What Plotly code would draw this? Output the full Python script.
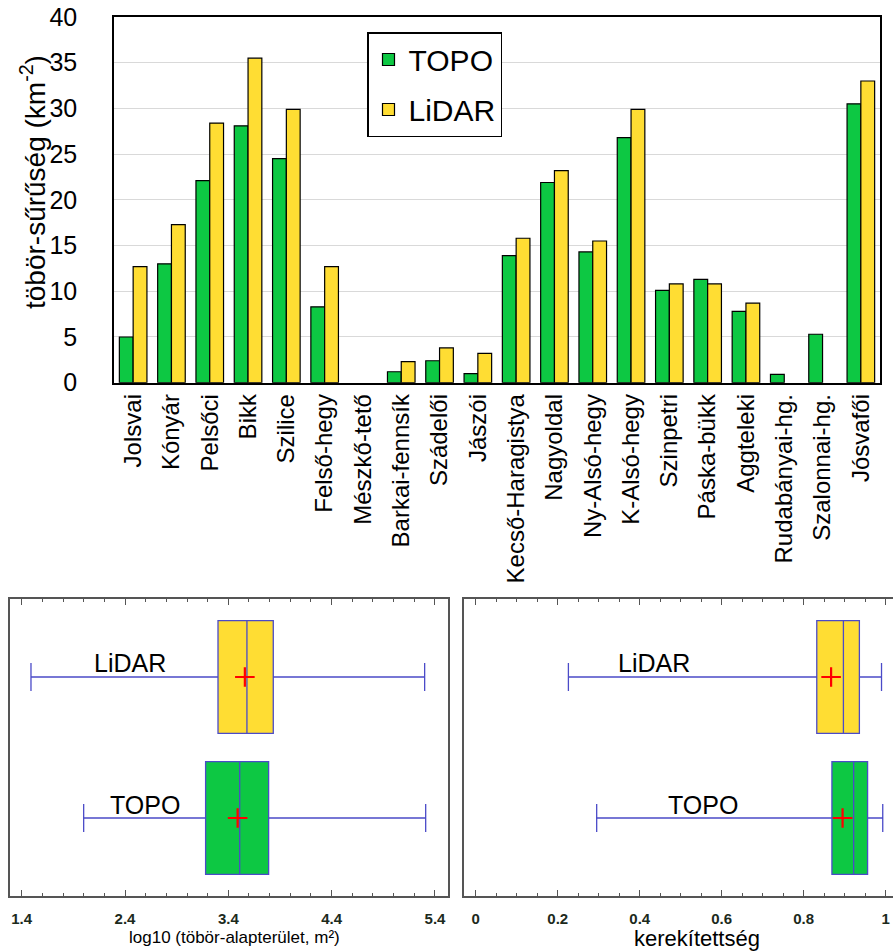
import plotly.graph_objects as go

# ---------------- data ----------------
categories = ["Jolsvai", "Kónyár", "Pelsőci", "Bikk", "Szilice", "Felső-hegy",
              "Mészkő-tető", "Barkai-fennsík", "Szádelői", "Jászói",
              "Kecső-Haragistya", "Nagyoldal", "Ny-Alsó-hegy", "K-Alsó-hegy",
              "Szinpetri", "Páska-bükk", "Aggteleki", "Rudabányai-hg.",
              "Szalonnai-hg.", "Jósvafői"]
topo_density = [5.0, 13.0, 22.1, 28.1, 24.5, 8.3, 0, 1.2, 2.4, 1.0,
                13.9, 21.9, 14.3, 26.8, 10.1, 11.3, 7.8, 0.9, 5.3, 30.5]
lidar_density = [12.7, 17.3, 28.4, 35.5, 29.9, 12.7, 0, 2.3, 3.8, 3.2,
                 15.8, 23.2, 15.5, 29.9, 10.8, 10.8, 8.7, 0, 0, 33.0]

box_names = ["TOPO", "LiDAR"]
box_pos = [0, 1]
# log10 area stats: [TOPO, LiDAR]
area_low = [2.00, 1.49]
area_q1 = [3.18, 3.30]
area_med = [3.51, 3.58]
area_q3 = [3.79, 3.835]
area_high = [5.31, 5.30]
area_mean = [3.49, 3.56]
# roundness stats
round_low = [0.295, 0.226]
round_q1 = [0.869, 0.832]
round_med = [0.922, 0.897]
round_q3 = [0.956, 0.936]
round_high = [0.993, 0.990]
round_mean = [0.895, 0.867]

GREEN = "#0DC843"
YELLOW = "#FFDD33"
BOXLINE = "#4B4BC8"
FONT = "Liberation Sans, Arial, sans-serif"

W, H = 893, 951
def px(x): return x / W
def py(y): return 1 - y / H

def outline_widths(vals):
    return [1.2 if v > 0 else 0 for v in vals]

fig = go.Figure()

# ---------------- top bar chart ----------------
fig.add_trace(go.Bar(x=categories, y=topo_density, name="TOPO",
                     marker=dict(color=GREEN, line=dict(color="black", width=outline_widths(topo_density))),
                     legendgroup="a", xaxis="x", yaxis="y"))
fig.add_trace(go.Bar(x=categories, y=lidar_density, name="LiDAR",
                     marker=dict(color=YELLOW, line=dict(color="black", width=outline_widths(lidar_density))),
                     legendgroup="b", xaxis="x", yaxis="y"))

# ---------------- box plots ----------------
colors = [GREEN, YELLOW]
for i in range(2):
    fig.add_trace(go.Box(orientation="h", y=[box_pos[i]], q1=[area_q1[i]], median=[area_med[i]],
                         q3=[area_q3[i]], lowerfence=[area_low[i]], upperfence=[area_high[i]],
                         fillcolor=colors[i], line=dict(color=BOXLINE, width=1.3),
                         width=0.8, whiskerwidth=0.25, showlegend=False,
                         xaxis="x2", yaxis="y2"))
    fig.add_trace(go.Box(orientation="h", y=[box_pos[i]], q1=[round_q1[i]], median=[round_med[i]],
                         q3=[round_q3[i]], lowerfence=[round_low[i]], upperfence=[round_high[i]],
                         fillcolor=colors[i], line=dict(color=BOXLINE, width=1.3),
                         width=0.8, whiskerwidth=0.25, showlegend=False,
                         xaxis="x3", yaxis="y3"))

fig.add_trace(go.Scatter(x=area_mean, y=box_pos, mode="markers", showlegend=False,
                         marker=dict(symbol="cross-thin", size=14, color="red",
                                     line=dict(color="red", width=2.2)),
                         xaxis="x2", yaxis="y2"))
fig.add_trace(go.Scatter(x=round_mean, y=box_pos, mode="markers", showlegend=False,
                         marker=dict(symbol="cross-thin", size=14, color="red",
                                     line=dict(color="red", width=2.2)),
                         xaxis="x3", yaxis="y3"))

annotations = []
# box labels
label_x_area = [2.59, 2.45]
label_x_round = [0.554, 0.435]
label_y = [0.09, 1.10]
for i in range(2):
    annotations.append(dict(x=label_x_area[i], y=label_y[i], xref="x2", yref="y2",
                            text=box_names[i], showarrow=False,
                            xanchor="center", yanchor="middle",
                            font=dict(size=25, color="black", family=FONT)))
    annotations.append(dict(x=label_x_round[i], y=label_y[i], xref="x3", yref="y3",
                            text=box_names[i], showarrow=False,
                            xanchor="center", yanchor="middle",
                            font=dict(size=25, color="black", family=FONT)))

annotations.append(dict(x=px(33), y=py(182), xref="paper", yref="paper",
                        xanchor="center", yanchor="middle",
                        text="töbör-sűrűség (km<sup>-2</sup>)", textangle=-90,
                        showarrow=False, font=dict(size=28, color="black", family=FONT)))
annotations.append(dict(x=px(234), y=py(937), xref="paper", yref="paper",
                        xanchor="center", yanchor="middle",
                        text="log10 (töbör-alapterület, m²)", showarrow=False,
                        font=dict(size=17, color="black", family=FONT)))
annotations.append(dict(x=px(697), y=py(938), xref="paper", yref="paper",
                        xanchor="center", yanchor="middle",
                        text="kerekítettség", showarrow=False,
                        font=dict(size=22, color="black", family=FONT)))

tickfont_small = dict(size=15, color="#1c2a1c", family=FONT, weight="bold")
FRAME = "#555555"

fig.update_layout(
    width=W, height=H,
    margin=dict(l=0, r=0, t=0, b=0, pad=0, autoexpand=False),
    paper_bgcolor="white", plot_bgcolor="white",
    barmode="group", bargap=0.28, bargroupgap=0,
    font=dict(family=FONT, color="black"),
    showlegend=True,
    legend=dict(x=px(367), y=py(32), xanchor="left", yanchor="top",
                bordercolor="black", borderwidth=1.5, bgcolor="white",
                font=dict(size=30, color="black", family=FONT),
                tracegroupgap=8, itemwidth=30),
    xaxis=dict(domain=[px(114), px(880)], anchor="y", type="category", automargin=False,
               showline=True, mirror=True, linecolor="black", linewidth=1.5,
               showgrid=False, ticks="", tickangle=-90,
               tickfont=dict(size=24, color="black", family=FONT)),
    yaxis=dict(domain=[py(382.7), py(17)], anchor="x", range=[0, 40], dtick=5,
               automargin=False,
               showline=True, mirror=True, linecolor="black", linewidth=1.5,
               showgrid=True, gridcolor="#d9d9d9", gridwidth=1.2, zeroline=False,
               ticks="", ticklabelstandoff=30,
               tickfont=dict(size=25, color="black", family=FONT)),
    xaxis2=dict(domain=[px(10), px(448)], anchor="y2", range=[1.287, 5.526],
                automargin=False,
                tick0=1.4, dtick=1, ticks="inside", ticklen=6, tickcolor=FRAME,
                showline=True, mirror="allticks", linecolor=FRAME, linewidth=1.5,
                showgrid=False, zeroline=False, tickfont=tickfont_small,
                ticklabelstandoff=8,
                minor=dict(dtick=0.2, tick0=1.4, ticks="inside", ticklen=3, tickcolor=FRAME)),
    yaxis2=dict(domain=[py(896), py(599)], anchor="x2", range=[-0.553, 1.553],
                automargin=False,
                showline=True, mirror=True, linecolor=FRAME, linewidth=1.5,
                showgrid=False, zeroline=False, showticklabels=False, ticks=""),
    xaxis3=dict(domain=[px(464.3), 1.0], anchor="y3", range=[-0.028, 1.018],
                automargin=False,
                tick0=0, dtick=0.2, ticks="inside", ticklen=6, tickcolor=FRAME,
                showline=True, mirror="allticks", linecolor=FRAME, linewidth=1.5,
                showgrid=False, zeroline=False, tickfont=tickfont_small,
                ticklabelstandoff=8,
                minor=dict(dtick=0.05, tick0=0, ticks="inside", ticklen=3, tickcolor=FRAME)),
    yaxis3=dict(domain=[py(896), py(599)], anchor="x3", range=[-0.553, 1.553],
                automargin=False,
                showline=True, mirror=False, linecolor=FRAME, linewidth=1.5,
                showgrid=False, zeroline=False, showticklabels=False, ticks=""),
    annotations=annotations,
)

fig.write_html("out.html")
